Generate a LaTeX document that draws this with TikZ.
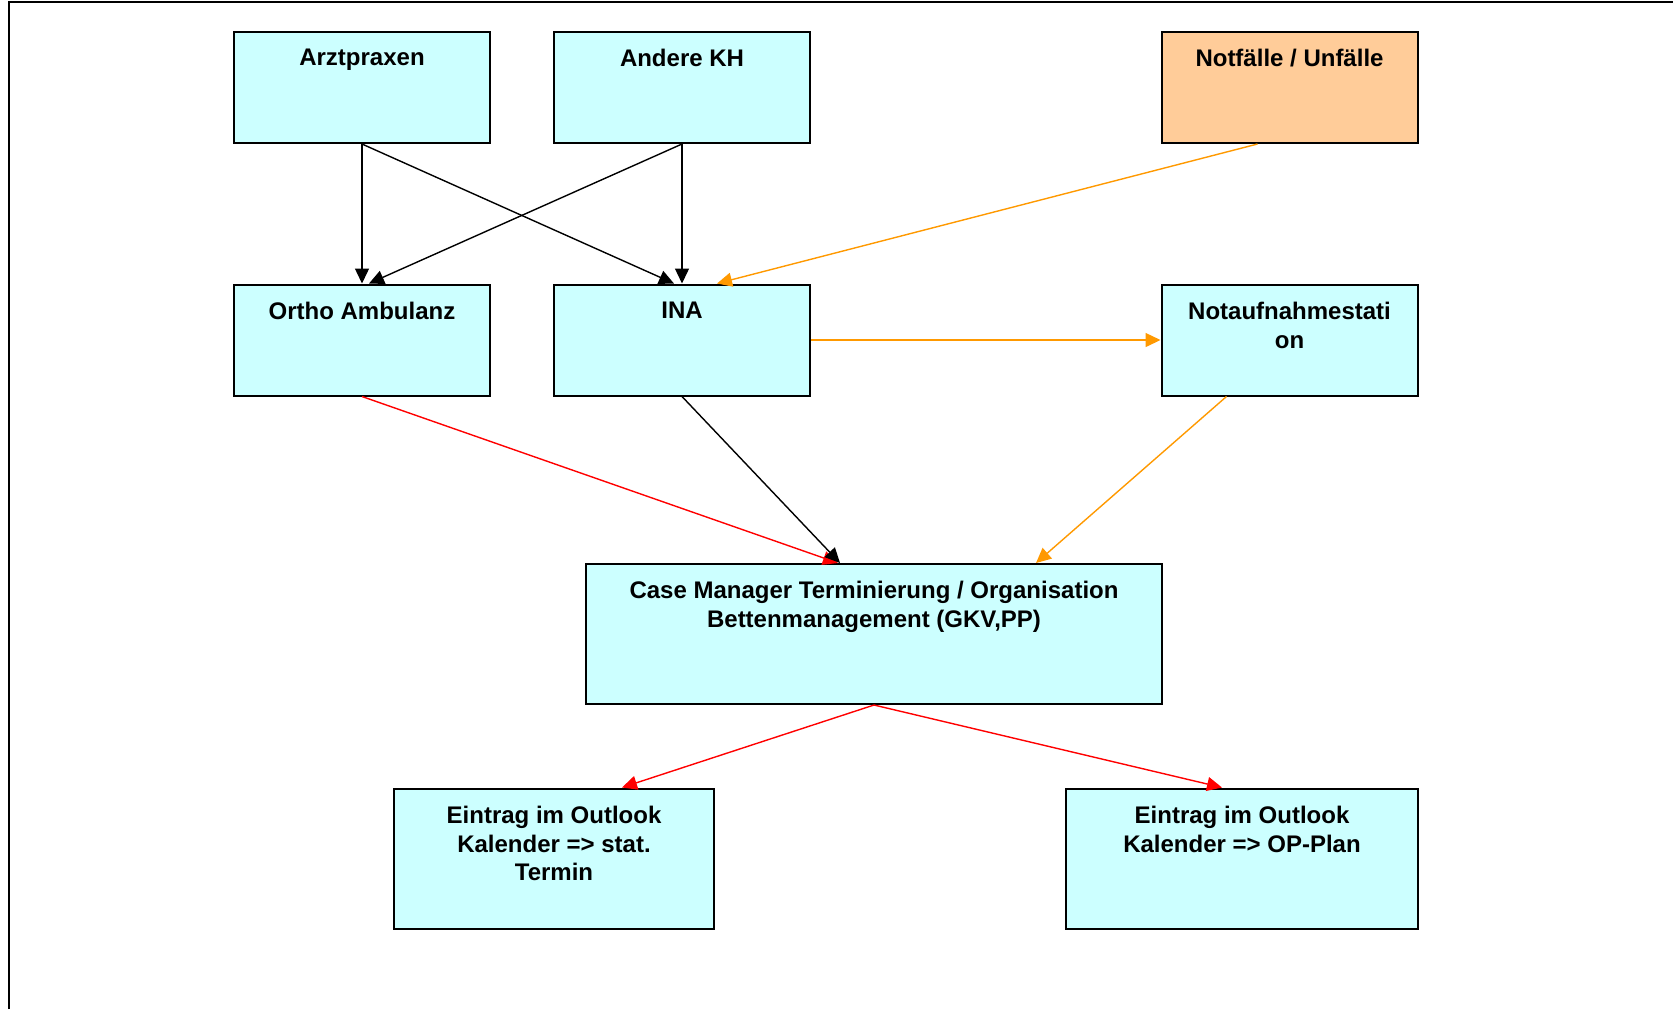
\documentclass[tikz,border=0pt]{standalone}
\usepackage{fontspec}
\setmainfont{Liberation Sans}
\usetikzlibrary{arrows.meta,calc}
\definecolor{boxcyan}{HTML}{CCFFFF}
\definecolor{boxpeach}{HTML}{FFCC99}
\definecolor{flowor}{HTML}{FF9900}
\definecolor{flowred}{HTML}{FF0000}
\begin{document}
\begin{tikzpicture}[x=0.5pt, y=-0.5pt,
  box/.style={draw, line width=1pt, fill=boxcyan, minimum width=128pt, minimum height=55.5pt, inner sep=0pt},
  boxtext/.style={anchor=north, inner sep=0pt, align=center, font=\fontsize{12}{14.4}\selectfont\bfseries, yshift=-9pt},
  flow/.style={line width=0.7pt, -{Triangle[length=7.5pt, width=7pt]}}]
  \useasboundingbox (0,0) rectangle (1673,1009);
  \draw[line width=1pt] (9,1009) |- (1673,2);

  % Sources
  \node[box] (arzt) at (362, 87.5) {};
  \node[boxtext] (arzt-t) at (arzt.north) {Arztpraxen};
  \node[box] (andere) at (682, 87.5) {};
  \node[boxtext] (andere-t) at (andere.north) {Andere KH};
  \node[box, fill=boxpeach] (notfall) at (1289.5, 87.5) {};
  \node[boxtext] (notfall-t) at (notfall.north) {Notfälle / Unfälle};

  % Admission
  \node[box] (ortho) at (362, 340) {};
  \node[boxtext] (ortho-t) at (ortho.north) {Ortho Ambulanz};
  \node[box] (ina) at (682, 340) {};
  \node[boxtext] (ina-t) at (ina.north) {INA};
  \node[box] (notstat) at (1289.5, 340) {};
  \node[boxtext] (notstat-t) at (notstat.north) {Notaufnahmestati\\on};

  % Case management
  \node[box, minimum width=288pt, minimum height=70pt] (cm) at (874, 634) {};
  \node[boxtext] (cm-t) at (cm.north) {Case Manager Terminierung / Organisation\\Bettenmanagement (GKV,PP)};

  % Outlook entries
  \node[box, minimum width=160pt, minimum height=70pt] (stat) at (554, 858.5) {};
  \node[boxtext] (stat-t) at (stat.north) {Eintrag im Outlook\\Kalender => stat.\\Termin};
  \node[box, minimum width=176pt, minimum height=70pt] (opplan) at (1242, 858.5) {};
  \node[boxtext] (opplan-t) at (opplan.north) {Eintrag im Outlook\\Kalender => OP-Plan};

  % Referrals
  \draw[flow] (arzt.south) -- (ortho.north);
  \draw[flow] (arzt.south) -- ($(ina.north)+(-8,0)$);
  \draw[flow] (andere.south) -- ($(ortho.north)+(7,0)$);
  \draw[flow] (andere.south) -- (ina.north);

  % Emergency path
  \draw[flow, flowor] ($(notfall.south)+(-32,0)$) -- ($(ina.north)+(35,0)$);
  \draw[flow, flowor] (ina.east) -- (notstat.west);
  \draw[flow, flowor] ($(notstat.south)+(-63,0)$) -- ($(cm.north)+(162,0)$);

  % Into case management
  \draw[flow, flowred] (ortho.south) -- ($(cm.north)+(-36,0)$);
  \draw[flow] (ina.south) -- ($(cm.north)+(-34,0)$);

  % Out of case management
  \draw[flow, flowred] (cm.south) -- ($(stat.north)+(68,0)$);
  \draw[flow, flowred] (cm.south) -- ($(opplan.north)+(-20,0)$);
\end{tikzpicture}
\end{document}
